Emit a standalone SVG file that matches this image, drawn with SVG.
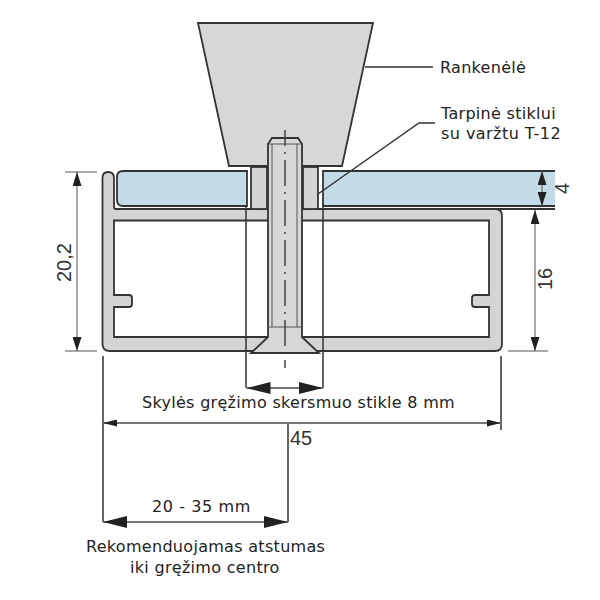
<svg xmlns="http://www.w3.org/2000/svg" width="600" height="600" viewBox="0 0 600 600">
<defs>
<marker id="arr" viewBox="0 0 24 12" refX="24" refY="6" markerWidth="24" markerHeight="12" markerUnits="userSpaceOnUse" orient="auto-start-reverse"><path d="M0 0L24 6L0 12Z" fill="#222"/></marker>
<marker id="ars" viewBox="0 0 14 7" refX="14" refY="3.5" markerWidth="14" markerHeight="7" markerUnits="userSpaceOnUse" orient="auto-start-reverse"><path d="M0 0L14 3.500L0 7Z" fill="#222"/></marker>
<marker id="arv" viewBox="0 0 14 9" refX="14" refY="4.5" markerWidth="14" markerHeight="9" markerUnits="userSpaceOnUse" orient="auto-start-reverse"><path d="M0 0L14 4.500L0 9Z" fill="#222"/></marker>
</defs>
<style>
.t{font-family:"DejaVu Sans",sans-serif;font-size:16px;letter-spacing:.3px;fill:#222}
.n{font-family:"Liberation Sans",sans-serif;font-size:20px;fill:#333}
.d{fill:none;stroke:#555;stroke-width:1}
.m{fill:none;stroke:#777;stroke-width:2}
.k{fill:none;stroke:#333;stroke-width:1.5}
.o{stroke:#333;stroke-width:1.8}
</style>
<rect width="600" height="600" fill="#fff"/>
<g id="handle"><path class="o" fill="#d6d7d9" d="M198 23H373L342 166H229Z"/></g>
<g id="glass">
<path class="o" fill="#c3dae7" d="M247 171H123Q117 171 117 177V200Q117 206 123 206H247Z"/>
<path fill="#c3dae7" d="M323 171H555V206H323Z"/>
<path class="o" fill="none" d="M555 171H323V206H555"/>
</g>
<g id="profile">
<path class="o" fill="#d4d4d4" fill-rule="evenodd" d="M102.500 178Q102.500 172 108 172Q114 172 114 178V207Q114 209 116 209H496Q502 209 502 216V344Q502 351 495 351H110Q102.500 351 102.500 344ZM114 220.500V295H129Q132 295 132 298V304Q132 307 129 307H114V337H489V307H475Q472 307 472 304V298Q472 295 475 295H489V220.500Z"/>
</g>
<g id="spacer">
<rect class="o" fill="#d4d4d4" x="251" y="167" width="16" height="42"/>
<rect class="o" fill="#d4d4d4" x="303" y="167" width="15" height="42"/>
</g>
<g id="bolt">
<path class="o" fill="#d6d7d9" d="M268 144L272 138H298L302 144V337L319 353H251L268 337Z"/>
<path class="d" d="M268 327H302M272 144V327M297 144V327M268 144H302"/>
<path fill="none" stroke="#444" stroke-width="1.500" stroke-dasharray="26 6 2 6" stroke-dashoffset="10" d="M285 130V368"/>
</g>
<g id="connectors">
<path class="k" d="M246 206V388M323 206V388"/>
<path class="m" marker-start="url(#arr)" marker-end="url(#arr)" d="M246.500 388H323"/>
<path class="d" d="M65 172H97M65 351H97"/>
<path class="d" marker-start="url(#arv)" marker-end="url(#arv)" d="M77 172V351"/>
<path class="k" d="M103 356V522M501 356V430M288 423V522"/>
<path class="m" stroke-width="1.500" marker-start="url(#ars)" marker-end="url(#ars)" d="M103 423H501"/>
<path class="m" marker-start="url(#arr)" marker-end="url(#arr)" d="M103 522H288"/>
<path class="d" d="M508 351H548"/>
<path class="d" marker-start="url(#arv)" marker-end="url(#arv)" d="M535 210V351"/>
<path class="d" marker-start="url(#arv)" marker-end="url(#arv)" d="M542 171V206"/>
<path stroke="#333" stroke-width="1.800" fill="none" d="M323 209H555"/>
<path class="k" d="M365 67H433M435 123H419L318 194"/>
</g>
<g id="labels">
<text class="t" x="440" y="73">Rankenėlė</text>
<text class="t" x="441" y="119">Tarpinė stiklui</text>
<text class="t" x="441" y="139" style="letter-spacing:.45px">su varžtu T-12</text>
<text class="t" x="142" y="408">Skylės gręžimo skersmuo stikle 8 mm</text>
<text class="t" x="152" y="512" style="letter-spacing:.6px">20 - 35 mm</text>
<text class="t" x="86" y="552">Rekomenduojamas atstumas</text>
<text class="t" x="130" y="573">iki gręžimo centro</text>
<text class="n" x="290" y="445">45</text>
<text class="n" transform="translate(71 282) rotate(-90)">20,2</text>
<text class="n" transform="translate(552 290) rotate(-90)">16</text>
<text class="n" transform="translate(569 194) rotate(-90)">4</text>
</g>
</svg>
